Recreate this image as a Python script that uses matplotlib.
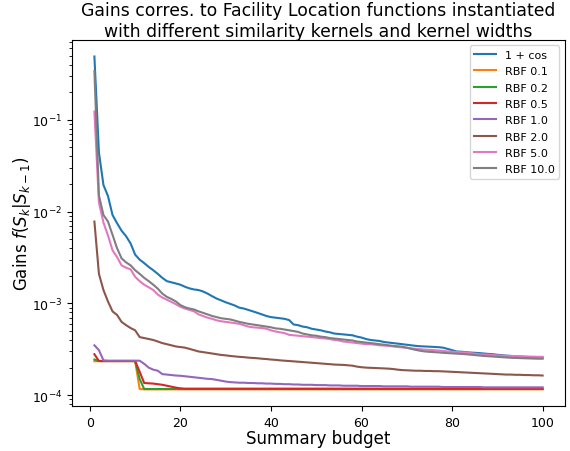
import numpy as np
import matplotlib
matplotlib.use("Agg")
import matplotlib.pyplot as plt

# summary budget k = 1..100
budget = np.arange(1, 101)

# gains, in units of 1e-4
cos_gain = [4900, 440, 195, 148, 92, 75, 62, 54, 45, 34,
            30, 27.5, 25, 23, 21, 19, 17.5, 17, 16.5, 16,
            15.2, 14.6, 14.2, 14.0, 13.5, 12.8, 12.0, 11.3, 10.8, 10.3,
            9.9, 9.5, 9.0, 8.8, 8.5, 8.2, 7.9, 7.6, 7.3, 7.1,
            7.0, 6.9, 6.8, 6.6, 5.9, 5.8, 5.6, 5.5, 5.3, 5.2,
            5.1, 4.95, 4.85, 4.7, 4.65, 4.6, 4.55, 4.5, 4.35, 4.25,
            4.1, 4.0, 3.95, 3.9, 3.8, 3.75, 3.7, 3.65, 3.6, 3.55,
            3.5, 3.45, 3.42, 3.4, 3.38, 3.36, 3.34, 3.3, 3.2, 3.1,
            3.0, 2.98, 2.95, 2.92, 2.9, 2.88, 2.85, 2.82, 2.8, 2.76,
            2.73, 2.7, 2.68, 2.66, 2.64, 2.62, 2.6, 2.6, 2.58, 2.57]

rbf_01 = [2.35, 2.35, 2.35, 2.35, 2.35, 2.35, 2.35, 2.35, 2.35, 2.35,
          1.17, 1.16, 1.16, 1.16, 1.16, 1.16, 1.16, 1.16, 1.16, 1.16,
          1.16, 1.16, 1.16, 1.16, 1.16, 1.16, 1.16, 1.16, 1.16, 1.16,
          1.16, 1.16, 1.16, 1.16, 1.16, 1.16, 1.16, 1.16, 1.16, 1.16,
          1.16, 1.16, 1.16, 1.16, 1.16, 1.16, 1.16, 1.16, 1.16, 1.16,
          1.16, 1.16, 1.16, 1.16, 1.16, 1.16, 1.16, 1.16, 1.16, 1.16,
          1.16, 1.16, 1.16, 1.16, 1.16, 1.16, 1.16, 1.16, 1.16, 1.16,
          1.16, 1.16, 1.16, 1.16, 1.16, 1.16, 1.16, 1.16, 1.16, 1.16,
          1.16, 1.16, 1.16, 1.16, 1.16, 1.16, 1.16, 1.16, 1.16, 1.16,
          1.16, 1.16, 1.16, 1.16, 1.16, 1.16, 1.16, 1.16, 1.16, 1.16]

rbf_02 = [2.45, 2.36, 2.36, 2.36, 2.36, 2.36, 2.36, 2.36, 2.36, 2.36,
          1.5, 1.17, 1.17, 1.17, 1.17, 1.17, 1.17, 1.17, 1.17, 1.17,
          1.17, 1.17, 1.17, 1.17, 1.17, 1.17, 1.17, 1.17, 1.17, 1.17,
          1.17, 1.17, 1.17, 1.17, 1.17, 1.17, 1.17, 1.17, 1.17, 1.17,
          1.17, 1.17, 1.17, 1.17, 1.17, 1.17, 1.17, 1.17, 1.17, 1.17,
          1.17, 1.17, 1.17, 1.17, 1.17, 1.17, 1.17, 1.17, 1.17, 1.17,
          1.17, 1.17, 1.17, 1.17, 1.17, 1.17, 1.17, 1.17, 1.17, 1.17,
          1.17, 1.17, 1.17, 1.17, 1.17, 1.17, 1.17, 1.17, 1.17, 1.17,
          1.17, 1.17, 1.17, 1.17, 1.17, 1.17, 1.17, 1.17, 1.17, 1.17,
          1.17, 1.17, 1.17, 1.17, 1.17, 1.17, 1.17, 1.17, 1.17, 1.17]

rbf_05 = [2.8, 2.36, 2.36, 2.36, 2.36, 2.36, 2.36, 2.36, 2.36, 2.36,
          1.8, 1.36, 1.35, 1.34, 1.32, 1.3, 1.27, 1.24, 1.21, 1.19,
          1.18, 1.18, 1.18, 1.18, 1.18, 1.18, 1.18, 1.18, 1.18, 1.18,
          1.18, 1.18, 1.18, 1.18, 1.18, 1.18, 1.18, 1.18, 1.18, 1.18,
          1.18, 1.18, 1.18, 1.18, 1.18, 1.18, 1.18, 1.18, 1.18, 1.18,
          1.18, 1.18, 1.18, 1.18, 1.18, 1.18, 1.18, 1.18, 1.18, 1.18,
          1.18, 1.18, 1.18, 1.18, 1.18, 1.18, 1.18, 1.18, 1.18, 1.18,
          1.18, 1.18, 1.18, 1.18, 1.18, 1.18, 1.18, 1.18, 1.18, 1.18,
          1.18, 1.18, 1.18, 1.18, 1.18, 1.18, 1.18, 1.18, 1.18, 1.18,
          1.18, 1.18, 1.18, 1.18, 1.18, 1.18, 1.18, 1.18, 1.18, 1.18]

rbf_1 = [3.5, 3.1, 2.4, 2.38, 2.38, 2.38, 2.38, 2.38, 2.38, 2.38,
         2.38, 2.2, 2.0, 1.9, 1.85, 1.7, 1.68, 1.66, 1.64, 1.63,
         1.61, 1.59, 1.57, 1.55, 1.53, 1.51, 1.5, 1.47, 1.44, 1.41,
         1.39, 1.38, 1.37, 1.37, 1.36, 1.36, 1.35, 1.35, 1.34, 1.34,
         1.33, 1.33, 1.32, 1.32, 1.31, 1.31, 1.3, 1.3, 1.3, 1.29,
         1.29, 1.29, 1.28, 1.28, 1.28, 1.27, 1.27, 1.27, 1.27, 1.26,
         1.26, 1.26, 1.26, 1.26, 1.25, 1.25, 1.25, 1.25, 1.25, 1.25,
         1.24, 1.24, 1.24, 1.24, 1.24, 1.24, 1.24, 1.23, 1.23, 1.23,
         1.23, 1.23, 1.23, 1.23, 1.23, 1.23, 1.22, 1.22, 1.22, 1.22,
         1.22, 1.22, 1.22, 1.22, 1.22, 1.22, 1.22, 1.22, 1.22, 1.22]

rbf_2 = [78, 21, 14, 10.5, 8.2, 7.5, 6.3, 5.8, 5.4, 5.1,
         4.3, 4.2, 4.1, 4.0, 3.85, 3.7, 3.6, 3.5, 3.4, 3.35,
         3.3, 3.2, 3.1, 3.0, 2.95, 2.9, 2.85, 2.8, 2.75, 2.72,
         2.68, 2.65, 2.62, 2.6, 2.57, 2.55, 2.53, 2.5, 2.48, 2.45,
         2.43, 2.4, 2.38, 2.36, 2.34, 2.32, 2.3, 2.28, 2.26, 2.24,
         2.22, 2.2, 2.18, 2.16, 2.15, 2.14, 2.12, 2.1, 2.05, 2.02,
         2.0, 1.99, 1.98, 1.97, 1.96, 1.95, 1.93, 1.9, 1.88, 1.87,
         1.86, 1.85, 1.85, 1.84, 1.84, 1.83, 1.83, 1.82, 1.81, 1.8,
         1.79, 1.78, 1.77, 1.76, 1.75, 1.74, 1.73, 1.72, 1.71, 1.7,
         1.69, 1.68, 1.68, 1.67, 1.67, 1.66, 1.66, 1.65, 1.65, 1.64]

rbf_5 = [1230, 126, 76, 55, 38, 32, 26, 24.5, 23.5, 19.5,
         17.5, 16, 15, 14, 12.5, 11.6, 11.0, 10.4, 9.8, 9.2,
         8.8, 8.5, 8.2, 7.6, 7.3, 7.0, 6.8, 6.55, 6.4, 6.3,
         6.2, 6.1, 6.0, 5.8, 5.6, 5.5, 5.45, 5.4, 5.3, 5.1,
         4.95, 4.85, 4.75, 4.55, 4.5, 4.45, 4.4, 4.35, 4.3, 4.25,
         4.2, 4.15, 4.1, 4.0, 3.95, 3.85, 3.8, 3.75, 3.7, 3.65,
         3.6, 3.6, 3.55, 3.5, 3.48, 3.45, 3.4, 3.36, 3.32, 3.28,
         3.24, 3.2, 3.17, 3.14, 3.12, 3.1, 3.07, 3.04, 3.0, 2.98,
         2.96, 2.94, 2.92, 2.88, 2.84, 2.8, 2.78, 2.76, 2.74, 2.72,
         2.7, 2.69, 2.68, 2.67, 2.66, 2.65, 2.64, 2.63, 2.62, 2.62]

rbf_10 = [3400, 150, 92, 78, 56, 40, 31, 28, 26, 23,
          21, 19, 17.5, 16, 14.5, 12.8, 11.8, 11.2, 10.5, 9.6,
          9.1, 8.8, 8.6, 8.2, 7.9, 7.6, 7.3, 7.1, 6.9, 6.8,
          6.7, 6.5, 6.3, 6.15, 6.0, 5.9, 5.8, 5.7, 5.6, 5.5,
          5.35, 5.3, 5.2, 5.1, 5.0, 4.9, 4.7, 4.6, 4.5, 4.45,
          4.35, 4.3, 4.2, 4.15, 4.1, 4.05, 4.0, 3.95, 3.85, 3.8,
          3.75, 3.7, 3.65, 3.6, 3.55, 3.5, 3.45, 3.42, 3.38, 3.3,
          3.2, 3.12, 3.05, 3.0, 2.97, 2.95, 2.93, 2.9, 2.88, 2.86,
          2.84, 2.82, 2.8, 2.77, 2.74, 2.71, 2.68, 2.66, 2.64, 2.62,
          2.6, 2.58, 2.56, 2.55, 2.54, 2.53, 2.52, 2.51, 2.5, 2.5]

labels = ['1 + cos', 'RBF 0.1', 'RBF 0.2', 'RBF 0.5',
          'RBF 1.0', 'RBF 2.0', 'RBF 5.0', 'RBF 10.0']
series = [cos_gain, rbf_01, rbf_02, rbf_05, rbf_1, rbf_2, rbf_5, rbf_10]

fig = plt.figure(figsize=(5.7, 4.52), dpi=100)
ax = fig.add_axes([0.1263, 0.0996, 0.865, 0.81])
for vals, lab in zip(series, labels):
    ax.plot(budget, np.array(vals) * 1e-4, label=lab, lw=1.5)
ax.set_yscale('log')
ax.set_xlabel('Summary budget', fontsize=12, labelpad=0)
ax.set_ylabel(r'Gains $f(S_k|S_{k-1})$', fontsize=12, labelpad=-1)
ax.set_title('Gains corres. to Facility Location functions instantiated\n'
             'with different similarity kernels and kernel widths',
             fontsize=12.4, pad=3)
ax.tick_params(labelsize=9)
ax.legend(fontsize=8, labelspacing=0.57)
fig.savefig('out.png', dpi=100)
